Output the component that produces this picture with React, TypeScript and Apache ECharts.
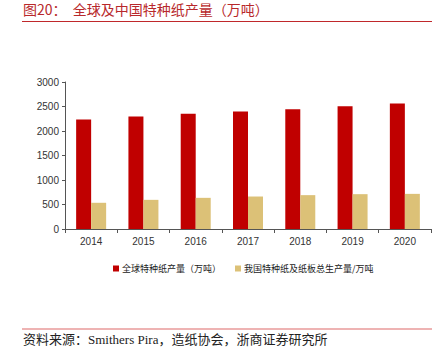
import React, { useEffect, useRef } from "react";
import * as echarts from "echarts";

const categories = ["2014", "2015", "2016", "2017", "2018", "2019", "2020"];
const globalOutput = [2235, 2295, 2350, 2398, 2445, 2505, 2560];
const chinaOutput = [535, 595, 636, 663, 691, 711, 717];
const seriesNames = ["全球特种纸产量（万吨）", "我国特种纸及纸板总生产量/万吨"];
const titleText = "图20：  全球及中国特种纸产量（万吨）";
const sourceText = "资料来源：Smithers Pira，造纸协会，浙商证券研究所";

export default function App() {
  const ref = useRef<HTMLDivElement>(null);
  useEffect(() => {
    const chart = echarts.init(ref.current!, undefined, { renderer: "svg" });
    chart.setOption({
      animation: false,
      backgroundColor: "#ffffff",
      grid: { left: 65, right: 13, top: 82, bottom: 124, containLabel: false },
      legend: {
        left: 108,
        top: 259,
        itemWidth: 6,
        itemHeight: 6,
        itemGap: 14,
        icon: "rect",
        textStyle: { fontSize: 9, color: "#222", fontFamily: "Noto Sans CJK SC", padding: [0, 0, 0, -2] },
        data: seriesNames,
      },
      xAxis: {
        type: "category",
        data: categories,
        axisLine: { lineStyle: { color: "#555", width: 1 } },
        axisTick: { show: true, length: 4, lineStyle: { color: "#555" } },
        axisLabel: { fontSize: 10, color: "#333", fontFamily: "Liberation Sans", margin: 7 },
      },
      yAxis: {
        type: "value",
        min: 0,
        max: 3000,
        interval: 500,
        axisLine: { show: true, lineStyle: { color: "#555", width: 1 } },
        axisTick: { show: true, length: 3, lineStyle: { color: "#555" } },
        splitLine: { show: false },
        axisLabel: {
          fontSize: 10,
          color: "#333",
          fontFamily: "Liberation Sans",
          margin: 6,
          formatter: (v: number) => String(v),
        },
      },
      series: [
        {
          name: seriesNames[0],
          type: "bar",
          data: globalOutput,
          barWidth: 15,
          barGap: "0%",
          itemStyle: { color: "#C00000" },
        },
        {
          name: seriesNames[1],
          type: "bar",
          data: chinaOutput,
          barWidth: 15,
          itemStyle: { color: "#DCC177" },
        },
      ],
      graphic: [
        {
          type: "text",
          left: 23,
          top: 2,
          style: {
            text: titleText,
            fontSize: 14,
            fill: "#B8282B",
            fontFamily: "Noto Sans CJK SC",
          },
        },
        {
          type: "line",
          shape: { x1: 22, y1: 21.5, x2: 432, y2: 21.5 },
          style: { stroke: "#C0282B", lineWidth: 1 },
        },
        {
          type: "line",
          shape: { x1: 22, y1: 329, x2: 432, y2: 329 },
          style: { stroke: "#E89A9A", lineWidth: 1.5 },
        },
        {
          type: "text",
          left: 23,
          top: 333,
          style: {
            text: sourceText,
            fontSize: 13,
            fill: "#222",
            fontFamily: "Liberation Serif, Noto Sans CJK SC",
          },
        },
      ],
    });
    return () => chart.dispose();
  }, []);
  return (
    <div
      ref={ref}
      style={{ position: "fixed", left: 0, top: 0, width: 444, height: 353, background: "#fff" }}
    />
  );
}
